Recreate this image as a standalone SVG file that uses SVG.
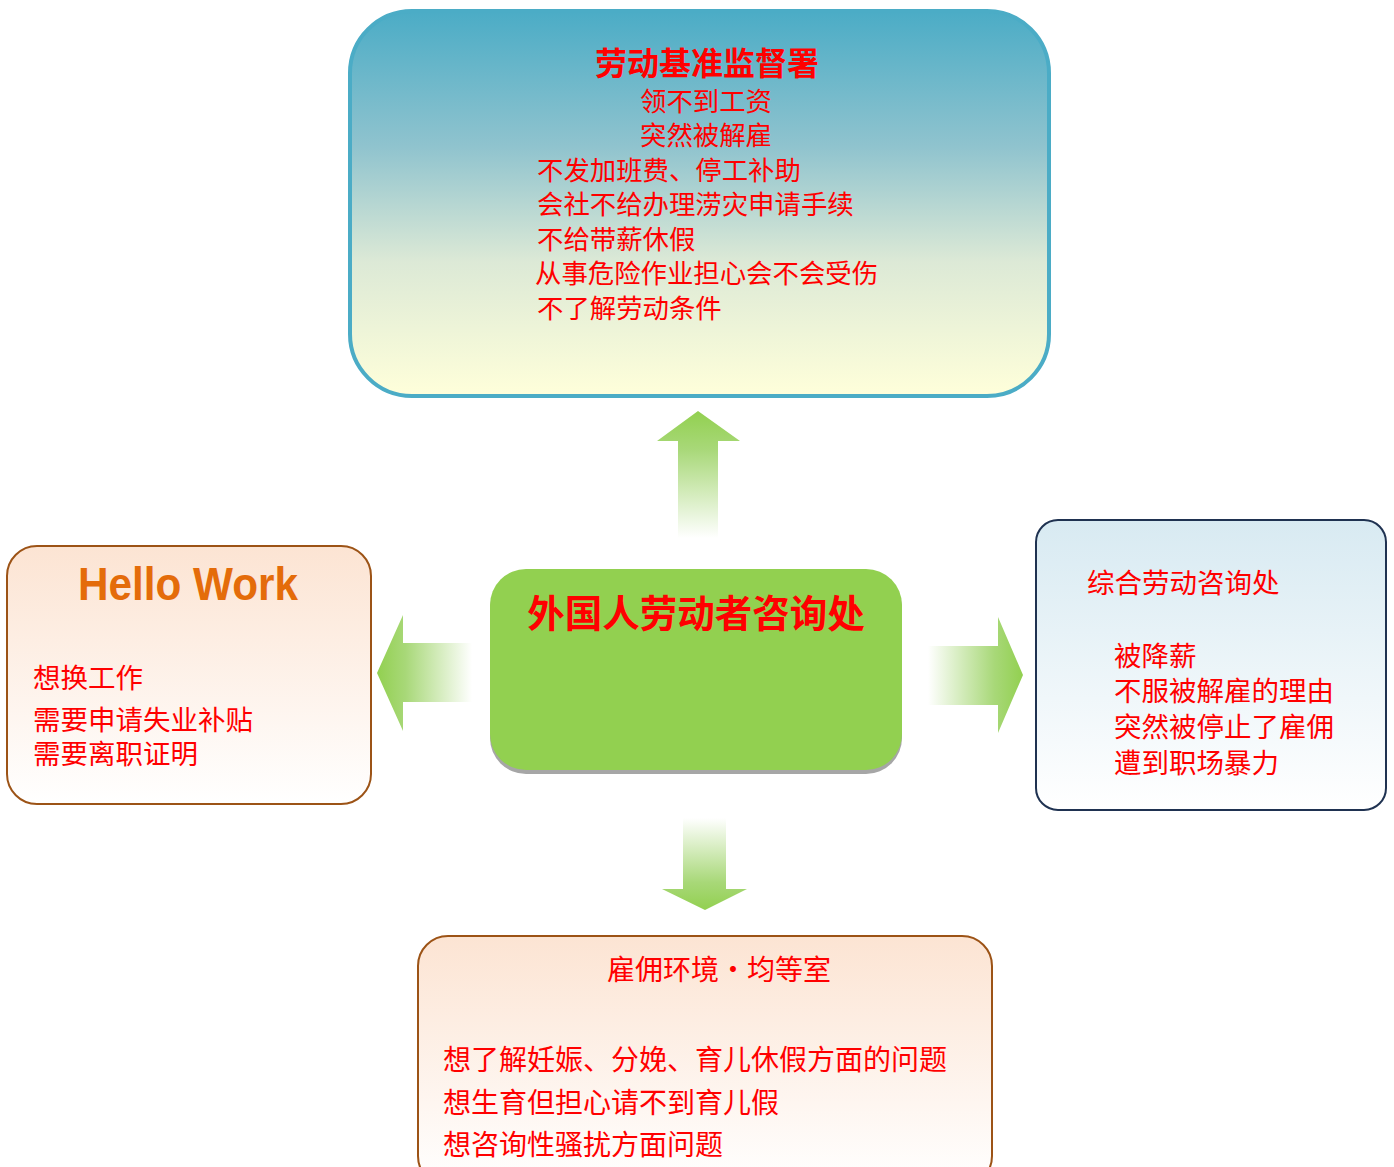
<svg xmlns="http://www.w3.org/2000/svg" width="1394" height="1167" viewBox="0 0 1394 1167">
<defs>
<style>
.t{font-family:"Noto Sans CJK SC","Liberation Sans",sans-serif;fill:#FF0000;}
.b{font-weight:bold;}
</style>
<linearGradient id="gTop" x1="0" y1="0" x2="0" y2="1">
<stop offset="0" stop-color="#4BACC6"/>
<stop offset="0.35" stop-color="#8FC3CE"/>
<stop offset="0.65" stop-color="#DCE9D6"/>
<stop offset="1" stop-color="#FFFFDA"/>
</linearGradient>
<linearGradient id="gPeach" x1="0" y1="0" x2="0" y2="1">
<stop offset="0" stop-color="#FCE4D3"/>
<stop offset="1" stop-color="#FFFFFF"/>
</linearGradient>
<linearGradient id="gBlue" x1="0" y1="0" x2="0" y2="1">
<stop offset="0" stop-color="#D8EAF2"/>
<stop offset="1" stop-color="#FFFFFF"/>
</linearGradient>
<linearGradient id="aUp" x1="0" y1="0" x2="0" y2="1">
<stop offset="0" stop-color="#92D050"/>
<stop offset="0.3" stop-color="#A8D878"/>
<stop offset="1" stop-color="#FFFFFF"/>
</linearGradient>
<linearGradient id="aDown" x1="0" y1="1" x2="0" y2="0">
<stop offset="0" stop-color="#92D050"/>
<stop offset="0.3" stop-color="#A8D878"/>
<stop offset="1" stop-color="#FFFFFF"/>
</linearGradient>
<linearGradient id="aLeft" x1="0" y1="0" x2="1" y2="0">
<stop offset="0" stop-color="#92D050"/>
<stop offset="0.3" stop-color="#A8D878"/>
<stop offset="1" stop-color="#FFFFFF"/>
</linearGradient>
<linearGradient id="aRight" x1="1" y1="0" x2="0" y2="0">
<stop offset="0" stop-color="#92D050"/>
<stop offset="0.3" stop-color="#A8D878"/>
<stop offset="1" stop-color="#FFFFFF"/>
</linearGradient>
</defs>
<rect width="1394" height="1167" fill="#FFFFFF"/>

<g id="connectors">
<polygon points="698,411 740,441 718,441 718,538 678,538 678,441 657,441" fill="url(#aUp)"/>
<polygon points="705,910 747,889 726,889 726,818 683,818 683,889 662,889" fill="url(#aDown)"/>
<polygon points="377,673 403,615 403,643 472,643 472,702 403,702 403,731" fill="url(#aLeft)"/>
<polygon points="1023,675 998,617 998,646 928,646 928,705 998,705 998,733" fill="url(#aRight)"/>
</g>

<g id="node-top">
<rect x="350" y="11" width="699" height="385" rx="62" ry="62" fill="url(#gTop)" stroke="#4BACC6" stroke-width="4"/>
<text class="t b" x="707" y="75" font-size="32" text-anchor="middle">劳动基准监督署</text>
<text class="t" x="640" y="111" font-size="26.4">领不到工资</text>
<text class="t" x="640" y="145" font-size="26.4">突然被解雇</text>
<text class="t" x="537" y="180" font-size="26.4">不发加班费、停工补助</text>
<text class="t" x="537" y="214" font-size="26.4">会社不给办理涝灾申请手续</text>
<text class="t" x="537" y="249" font-size="26.4">不给带薪休假</text>
<text class="t" x="535" y="283" font-size="26.4">从事危险作业担心会不会受伤</text>
<text class="t" x="537" y="318" font-size="26.4">不了解劳动条件</text>
</g>

<g id="node-center">
<rect x="490" y="573" width="412" height="201" rx="36" ry="36" fill="#A6A6A6"/>
<rect x="490" y="569" width="412" height="201" rx="36" ry="36" fill="#92D050"/>
<text class="t b" x="696" y="627" font-size="37.5" text-anchor="middle">外国人劳动者咨询处</text>
</g>

<g id="node-left">
<rect x="7" y="546" width="364" height="258" rx="30" ry="30" fill="url(#gPeach)" stroke="#9C5316" stroke-width="2"/>
<text x="78" y="600" font-family="Liberation Sans,Arial,sans-serif" font-weight="bold" font-size="47" fill="#E46C0A" textLength="220" lengthAdjust="spacingAndGlyphs">Hello Work</text>
<text class="t" x="33" y="688" font-size="27.5">想换工作</text>
<text class="t" x="33" y="730" font-size="27.5">需要申请失业补贴</text>
<text class="t" x="33" y="764" font-size="27.5">需要离职证明</text>
</g>

<g id="node-right">
<rect x="1036" y="520" width="350" height="290" rx="22" ry="22" fill="url(#gBlue)" stroke="#1F3251" stroke-width="2"/>
<text class="t" x="1087" y="593" font-size="27.5">综合劳动咨询处</text>
<text class="t" x="1114" y="666" font-size="27.5">被降薪</text>
<text class="t" x="1114" y="701" font-size="27.5">不服被解雇的理由</text>
<text class="t" x="1114" y="737" font-size="27.5">突然被停止了雇佣</text>
<text class="t" x="1114" y="773" font-size="27.5">遭到职场暴力</text>
</g>

<g id="node-bottom">
<rect x="418" y="936" width="574" height="250" rx="30" ry="30" fill="url(#gPeach)" stroke="#9C5316" stroke-width="2"/>
<text class="t" x="719" y="980" font-size="28" text-anchor="middle">雇佣环境・均等室</text>
<text class="t" x="443" y="1070" font-size="28">想了解妊娠、分娩、育儿休假方面的问题</text>
<text class="t" x="443" y="1113" font-size="28">想生育但担心请不到育儿假</text>
<text class="t" x="443" y="1155" font-size="28">想咨询性骚扰方面问题</text>
</g>
</svg>
